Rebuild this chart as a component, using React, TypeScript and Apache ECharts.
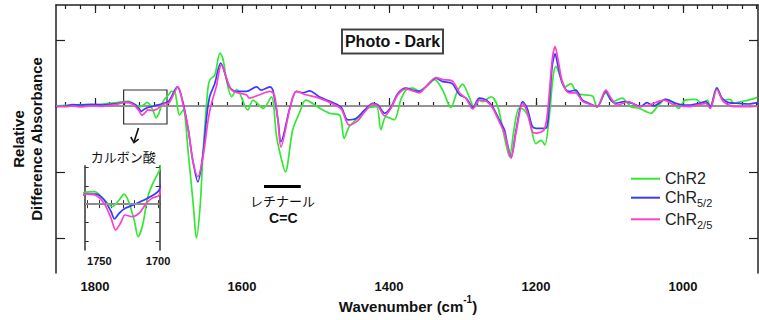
import React, { useEffect, useRef } from "react";
import * as echarts from "echarts";

// ---- data (wavenumber cm^-1, relative difference absorbance) ----
const chr2: [number, number][] = [
  [1853, 0], [1840, 0.01], [1830, 0.015], [1820, 0.02], [1805, 0.015], [1790, 0.03], [1780, 0.04], [1770, 0.05],
  [1761, 0.066], [1754, 0.069], [1747, 0.033], [1739, -0.013], [1733, 0.024], [1729, 0.055], [1725, 0.014],
  [1720, -0.095], [1717, -0.177], [1713, -0.112], [1709, 0.033], [1705, 0.105], [1699, 0.182],
  [1696, 0.22], [1691, 0.2], [1685, -0.14], [1680, -0.06], [1673, -0.72], [1666, -1.53], [1662, -2.0],
  [1657, -1.53], [1653, -0.72], [1647, 0.19], [1644, 0.39], [1637, 0.47], [1630, 0.8], [1626, 0.72],
  [1621, 0.39], [1614, 0.14], [1607, 0.25], [1592, -0.06], [1585, 0.09], [1571, -0.035], [1560, 0.14],
  [1553, -0.46], [1546, -0.82], [1541, -1.0], [1531, -0.36], [1522, -0.11], [1513, 0.09], [1494, -0.035],
  [1481, -0.11], [1467, -0.14], [1461, -0.49], [1454, -0.31], [1440, -0.16], [1429, -0.035], [1417, -0.01],
  [1411, -0.36], [1404, -0.16], [1393, -0.21], [1384, 0.09], [1377, 0.24], [1368, 0.27], [1359, 0.23],
  [1350, 0.29], [1338, 0.4], [1327, 0.24], [1316, -0.02], [1307, 0.22], [1300, 0.33], [1291, 0.14],
  [1284, -0.02], [1277, 0.09], [1273, 0.065], [1261, 0.14], [1252, -0.01], [1243, -0.47], [1236, -0.77],
  [1230, -0.36], [1223, -0.035], [1216, -0.06], [1209, -0.21], [1200, -0.57], [1193, -0.52], [1188, -0.59],
  [1182, -0.16], [1177, 0.42], [1173, 0.6], [1166, 0.42], [1160, 0.29], [1153, 0.34], [1144, 0.19],
  [1135, 0.17], [1123, 0.15], [1117, -0.02], [1105, 0.2], [1096, 0.065], [1083, 0.12], [1071, -0.01],
  [1060, -0.035], [1049, -0.09], [1044, -0.11], [1033, 0.015], [1024, 0.1], [1015, 0.065], [1006, -0.035],
  [997, 0.09], [983, 0.1], [974, 0.04], [967, 0.09], [963, -0.01], [954, 0.28], [945, 0.09], [936, 0.1],
  [931, 0.04], [922, 0.065], [911, 0.09], [899, 0.13],
];

const chr52: [number, number][] = [
  [1853, -0.01], [1840, 0.0], [1830, 0.02], [1820, 0.015], [1805, 0.025], [1790, 0.015], [1780, 0.025], [1770, 0.035],
  [1761, 0.055], [1753, 0.055], [1746, 0.024], [1740, -0.04], [1737, -0.08], [1733, -0.049], [1728, -0.022],
  [1721, -0.004], [1715, 0.014], [1709, 0.033], [1704, 0.05], [1699, 0.078],
  [1688, 0.29], [1680, 0.04], [1673, -0.36], [1667, -0.82], [1660, -1.15], [1653, -0.72], [1648, -0.16],
  [1644, 0.14], [1637, 0.34], [1629, 0.65], [1617, 0.29], [1608, 0.22], [1594, 0.22], [1580, 0.29],
  [1574, 0.24], [1562, 0.29], [1558, 0.24], [1551, -0.21], [1547, -0.54], [1535, -0.035], [1526, 0.22],
  [1517, 0.2], [1508, 0.23], [1495, 0.14], [1476, 0.05], [1465, -0.02], [1456, -0.21], [1445, -0.19],
  [1433, -0.06], [1422, 0.04], [1415, 0.015], [1406, -0.11], [1397, -0.01], [1388, 0.19], [1377, 0.27],
  [1368, 0.24], [1359, 0.22], [1350, 0.29], [1336, 0.42], [1327, 0.37], [1314, 0.34], [1304, 0.17],
  [1295, 0.12], [1286, -0.02], [1277, 0.12], [1268, 0.09], [1259, -0.01], [1250, -0.21], [1243, -0.36],
  [1239, -0.57], [1234, -0.78], [1227, -0.36], [1218, 0.065], [1212, -0.035], [1205, -0.31], [1200, -0.34],
  [1187, -0.34], [1182, 0.04], [1178, 0.6], [1174, 0.79], [1170, 0.6], [1164, 0.34], [1155, 0.22],
  [1146, 0.24], [1137, 0.09], [1128, 0.04], [1117, -0.01], [1105, 0.22], [1098, 0.09], [1092, 0.04],
  [1080, 0.065], [1069, 0.04], [1058, -0.01], [1049, 0.05], [1040, 0.0], [1024, 0.1], [1010, 0.04],
  [999, 0.015], [990, 0.015], [978, 0.04], [969, 0.065], [963, -0.01], [954, 0.27], [947, 0.12],
  [938, 0.05], [924, 0.04], [911, 0.03], [899, 0.05],
];

const chr25: [number, number][] = [
  [1853, 0.0], [1840, -0.01], [1830, 0.0], [1820, -0.015], [1805, 0.0], [1790, -0.005], [1780, 0.01], [1770, 0.025],
  [1761, 0.055], [1754, 0.051], [1746, 0.005], [1740, -0.076], [1736, -0.141], [1732, -0.104], [1728, -0.059],
  [1722, -0.068], [1716, -0.049], [1710, 0.005], [1705, 0.033], [1699, 0.05],
  [1687, 0.29], [1680, 0.015], [1673, -0.36], [1667, -0.82], [1660, -1.07], [1653, -0.77], [1646, -0.21],
  [1642, 0.015], [1635, 0.29], [1628, 0.62], [1614, 0.24], [1594, 0.17], [1590, 0.12], [1576, 0.17],
  [1562, 0.22], [1556, 0.17], [1551, -0.23], [1547, -0.62], [1535, -0.05], [1526, 0.22], [1513, 0.17],
  [1495, 0.12], [1476, 0.03], [1465, -0.045], [1454, -0.29], [1443, -0.23], [1433, -0.09], [1422, 0.03],
  [1415, 0.0], [1406, -0.15], [1397, -0.03], [1388, 0.17], [1377, 0.26], [1368, 0.23], [1359, 0.2],
  [1350, 0.29], [1336, 0.43], [1327, 0.4], [1314, 0.38], [1304, 0.2], [1295, 0.11], [1286, -0.045],
  [1277, 0.09], [1268, 0.075], [1259, -0.03], [1250, -0.24], [1243, -0.41], [1239, -0.59], [1234, -0.79],
  [1227, -0.39], [1218, 0.04], [1212, -0.09], [1205, -0.39], [1200, -0.41], [1189, -0.36], [1184, -0.06],
  [1178, 0.7], [1174, 0.9], [1170, 0.7], [1164, 0.36], [1155, 0.2], [1146, 0.2], [1137, 0.075],
  [1128, 0.03], [1117, -0.01], [1105, 0.24], [1098, 0.12], [1090, 0.015], [1074, 0.065], [1060, -0.01],
  [1046, 0.015], [1026, 0.09], [1012, 0.015], [992, -0.01], [969, 0.04], [963, -0.035], [954, 0.25],
  [945, 0.065], [929, -0.01], [911, -0.01], [899, 0.0],
];

const majorTicks = [1800, 1600, 1400, 1200, 1000];
const minorTicks = [
  1840, 1820, 1800, 1780, 1760, 1740, 1720, 1700, 1680, 1660, 1640, 1620, 1600, 1580, 1560, 1540, 1520,
  1500, 1480, 1460, 1440, 1420, 1400, 1380, 1360, 1340, 1320, 1300, 1280, 1260, 1240, 1220, 1200, 1180,
  1160, 1140, 1120, 1100, 1080, 1060, 1040, 1020, 1000, 980, 960, 940, 920, 900,
];
const yTicks = [-2, -1, 0, 1];
const insetXTicks = [1760, 1750, 1740, 1730, 1720, 1710, 1700];
const insetXLabels = [1750, 1700];
const insetYTicks = [-0.2, -0.1, 0, 0.1, 0.2];
const insetBox = [1761, 0.242, 1702, -0.273]; // region magnified in the inset
const retinalBar = [1570, 1520, -1.22];

const names = ["ChR2", "ChR5/2", "ChR2/5"];
const colors = ["#33e833", "#3a3aff", "#ff40cc"];

const FONT = "'Liberation Sans', Arial, Helvetica, sans-serif";
const CJK = "'Noto Sans CJK JP', 'Noto Sans CJK SC', sans-serif";
const AX = "#222";

function xAx(extra: any) {
  return {
    type: "value",
    inverse: true,
    min: 898,
    max: 1853,
    gridIndex: 0,
    splitLine: { show: false },
    axisLabel: { show: false },
    ...extra,
  };
}

export default function App() {
  const ref = useRef<HTMLDivElement>(null);

  useEffect(() => {
    if (!ref.current) return;
    const chart = echarts.init(ref.current, undefined, { renderer: "svg" });

    const legendRich = {
      a: { fontSize: 16, fontFamily: FONT, color: "#222", lineHeight: 22, verticalAlign: "middle" },
      s: { fontSize: 11, fontFamily: FONT, color: "#222", lineHeight: 11, verticalAlign: "bottom" },
    };
    const legendFmt = (n: string) =>
      n === "ChR2" ? "{a|ChR2}" : n === "ChR5/2" ? "{a|ChR}{s|5/2}" : "{a|ChR}{s|2/5}";
    const legendTops = [165.7, 184.7, 206.3];

    const mainSeries = [chr2, chr52, chr25].map((d, i) => ({
      name: names[i],
      type: "line",
      xAxisIndex: 0,
      yAxisIndex: 0,
      data: d,
      smooth: 0.3,
      symbol: "none",
      showSymbol: false,
      lineStyle: { color: colors[i], width: 1.7 },
      itemStyle: { color: colors[i] },
      z: 3 + i,
      ...(i === 0
        ? {
            markLine: {
              silent: true,
              symbol: ["none", "none"],
              label: { show: false },
              lineStyle: { color: "#a9a9a9", width: 1.5, type: "solid" },
              data: [{ yAxis: 0 }],
              z: 1,
            },
            markArea: {
              silent: true,
              itemStyle: { color: "rgba(0,0,0,0)", borderColor: "#333", borderWidth: 1.2 },
              data: [[{ coord: [insetBox[0], insetBox[1]] }, { coord: [insetBox[2], insetBox[3]] }]],
            },
          }
        : {}),
      ...(i === 1
        ? {
            markLine: {
              silent: true,
              symbol: ["none", "none"],
              label: { show: false },
              lineStyle: { color: "#000", width: 3, type: "solid" },
              data: [[{ coord: [retinalBar[0], retinalBar[2]] }, { coord: [retinalBar[1], retinalBar[2]] }]],
            },
          }
        : {}),
    }));

    const insetSeries = [chr2, chr52, chr25].map((d, i) => ({
      name: "inset-" + names[i],
      type: "line",
      xAxisIndex: 4,
      yAxisIndex: 2,
      data: d,
      smooth: 0.3,
      clip: true,
      symbol: "none",
      showSymbol: false,
      lineStyle: { color: colors[i], width: 1.7 },
      z: 3 + i,
      ...(i === 0
        ? {
            markLine: {
              silent: true,
              symbol: ["none", "none"],
              label: { show: false },
              lineStyle: { color: "#a9a9a9", width: 1.5, type: "solid" },
              data: [{ yAxis: 0 }],
            },
          }
        : {}),
    }));

    const option: any = {
      animation: false,
      backgroundColor: "#fff",
      textStyle: { fontFamily: FONT },
      grid: [
        { left: 56, right: 1, top: 5, bottom: 47 },
        { left: 84.7, top: 165.7, width: 75, height: 84.3 },
      ],
      legend: names.map((n, i) => ({
        data: [n],
        left: 626,
        top: legendTops[i],
        icon: "rect",
        itemWidth: 29,
        itemHeight: 2,
        formatter: legendFmt,
        textStyle: { rich: legendRich },
        selectedMode: false,
      })),
      xAxis: [
        xAx({
          position: "bottom",
          axisLine: { show: true, lineStyle: { color: AX, width: 1.5 } },
          axisTick: { show: true, inside: true, length: 8, customValues: majorTicks, lineStyle: { color: AX, width: 1.2 } },
          axisLabel: {
            show: true,
            customValues: majorTicks,
            formatter: (v: number) => String(v),
            fontSize: 13,
            fontWeight: "bold",
            color: "#111",
            fontFamily: FONT,
            margin: 7,
          },
        }),
        xAx({
          position: "bottom",
          axisLine: { show: false },
          axisTick: { show: true, inside: true, length: 4, customValues: minorTicks, lineStyle: { color: AX, width: 1.2 } },
        }),
        xAx({
          position: "top",
          axisLine: { show: true, lineStyle: { color: AX, width: 1.5 } },
          axisTick: { show: true, inside: true, length: 8, customValues: majorTicks, lineStyle: { color: AX, width: 1.2 } },
        }),
        xAx({
          position: "top",
          axisLine: { show: false },
          axisTick: { show: true, inside: true, length: 4, customValues: minorTicks, lineStyle: { color: AX, width: 1.2 } },
        }),
        {
          type: "value",
          gridIndex: 1,
          position: "bottom",
          inverse: true,
          min: 1698.6,
          max: 1762.4,
          splitLine: { show: false },
          axisLine: { show: true, lineStyle: { color: "#333", width: 1.5 } },
          axisTick: { show: true, inside: true, length: 4, customValues: insetXTicks, lineStyle: { color: "#333" } },
          axisLabel: {
            show: true,
            customValues: insetXLabels,
            formatter: (v: number) => String(v),
            fontSize: 11,
            fontWeight: "bold",
            color: "#111",
            fontFamily: FONT,
            margin: 5,
          },
        },
        {
          type: "value",
          gridIndex: 1,
          position: "top",
          inverse: true,
          min: 1698.6,
          max: 1762.4,
          splitLine: { show: false },
          axisLine: { show: true, lineStyle: { color: "#333", width: 1.5 } },
          axisTick: { show: true, inside: true, length: 4, customValues: insetXTicks, lineStyle: { color: "#333" } },
          axisLabel: { show: false },
        },
      ],
      yAxis: [
        {
          type: "value",
          gridIndex: 0,
          position: "left",
          min: -2.53,
          max: 1.53,
          splitLine: { show: false },
          axisLine: { show: true, lineStyle: { color: AX, width: 1.5 } },
          axisTick: { show: true, inside: true, length: 9, customValues: yTicks, lineStyle: { color: AX, width: 1.2 } },
          axisLabel: { show: false },
        },
        {
          type: "value",
          gridIndex: 0,
          position: "right",
          min: -2.53,
          max: 1.53,
          splitLine: { show: false },
          axisLine: { show: true, lineStyle: { color: AX, width: 1.5 } },
          axisTick: { show: true, inside: true, length: 9, customValues: yTicks, lineStyle: { color: AX, width: 1.2 } },
          axisLabel: { show: false },
        },
        {
          type: "value",
          gridIndex: 1,
          position: "left",
          min: -0.25,
          max: 0.21,
          splitLine: { show: false },
          axisLine: { show: true, lineStyle: { color: "#333", width: 1.5 } },
          axisTick: { show: true, inside: true, length: 4, customValues: insetYTicks, lineStyle: { color: "#333" } },
          axisLabel: { show: false },
        },
        {
          type: "value",
          gridIndex: 1,
          position: "right",
          min: -0.25,
          max: 0.21,
          splitLine: { show: false },
          axisLine: { show: true, lineStyle: { color: "#333", width: 1.5 } },
          axisTick: { show: true, inside: true, length: 4, customValues: insetYTicks, lineStyle: { color: "#333" } },
          axisLabel: { show: false },
        },
      ],
      series: [...mainSeries, ...insetSeries],
      graphic: [
        {
          type: "rect",
          shape: { x: 342, y: 29.5, width: 101, height: 24 },
          style: { fill: "#fff", stroke: "#444", lineWidth: 2 },
          z: 100,
        },
        {
          type: "text",
          x: 392.5,
          y: 41.8,
          style: { text: "Photo - Dark", font: `bold 16px ${FONT}`, fill: "#111", align: "center", verticalAlign: "middle" },
          z: 101,
        },
        {
          type: "text",
          x: 27.4,
          y: 139,
          rotation: Math.PI / 2,
          style: {
            text: "Relative\nDifference Absorbance",
            font: `bold 15px ${FONT}`,
            fill: "#111",
            align: "center",
            verticalAlign: "middle",
            lineHeight: 18.5,
          },
        },
        {
          type: "text",
          x: 408,
          y: 306.5,
          style: {
            text: "{a|Wavenumber (cm}{s|-1}{a|)}",
            align: "center",
            verticalAlign: "middle",
            rich: {
              a: { fontSize: 15, fontWeight: "bold", fontFamily: FONT, fill: "#111", color: "#111", lineHeight: 24, verticalAlign: "middle" },
              s: { fontSize: 10, fontWeight: "bold", fontFamily: FONT, fill: "#111", color: "#111", lineHeight: 10, verticalAlign: "top" },
            },
          },
        },
        {
          type: "text",
          x: 123.3,
          y: 156.7,
          style: { text: "カルボン酸", font: `13px ${CJK}`, fill: "#111", align: "center", verticalAlign: "middle" },
        },
        {
          type: "line",
          shape: { x1: 138.5, y1: 128, x2: 134, y2: 142 },
          style: { stroke: "#111", lineWidth: 1.6 },
        },
        {
          type: "polyline",
          shape: { points: [[130.8, 137], [134, 142.6], [138.6, 139.2]] },
          style: { stroke: "#111", lineWidth: 1.6, fill: "none" },
        },
        {
          type: "text",
          x: 282.5,
          y: 200.5,
          style: { text: "レチナール", font: `13px ${CJK}`, fill: "#111", align: "center", verticalAlign: "middle", lineHeight: 15 },
        },
        {
          type: "text",
          x: 283.3,
          y: 218,
          style: { text: "C=C", font: `bold 14px ${FONT}`, fill: "#111", align: "center", verticalAlign: "middle", lineHeight: 15 },
        },
      ],
    };

    chart.setOption(option);
    return () => chart.dispose();
  }, []);

  return (
    <div
      ref={ref}
      style={{ position: "fixed", left: 0, top: 0, width: 759, height: 320, background: "#fff" }}
    />
  );
}
